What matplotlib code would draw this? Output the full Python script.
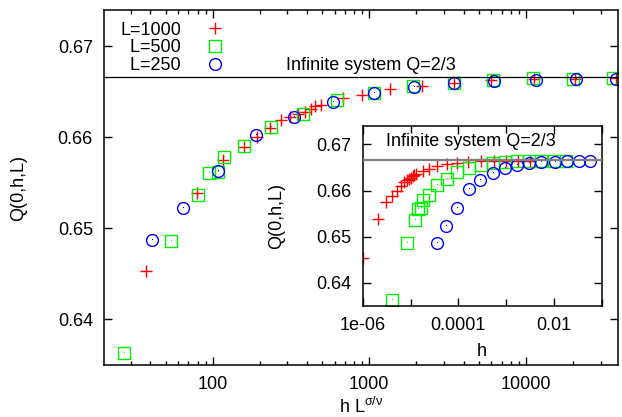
import numpy as np
import matplotlib
matplotlib.use('Agg')
import matplotlib.pyplot as plt
from matplotlib import ticker

plt.rcParams['font.family'] = ['Liberation Sans', 'DejaVu Sans']
plt.rcParams['mathtext.fontset'] = 'custom'
plt.rcParams['mathtext.rm'] = 'Liberation Sans'
plt.rcParams['mathtext.it'] = 'Liberation Sans:italic'

# exponent sigma/nu used for the scaling collapse
sigma_nu = 2.525
q_inf = 2.0 / 3.0

sizes = [1000, 500, 250]
labels = ['L=1000', '  L=500', '  L=250']

h_1000 = [1.0e-6, 2.1e-6, 3.1e-6, 4.2e-6, 5.1e-6, 6.2e-6, 7.3e-6, 8.3e-6, 9.3e-6,
          1.03e-5, 1.13e-5, 1.2e-5, 1.3e-5, 1.8e-5, 2.4e-5, 3.6e-5, 5.8e-5, 9.3e-5,
          1.6e-4, 3.0e-4, 5.5e-4, 1.0e-3, 1.8e-3, 3.2e-3]
q_1000 = [0.6453, 0.6539, 0.6575, 0.6589, 0.6600, 0.6610, 0.6619, 0.6623, 0.6626,
          0.6628, 0.6631, 0.6634, 0.6636, 0.6643, 0.6647, 0.6653, 0.6657, 0.6660,
          0.6663, 0.6664, 0.6664, 0.6665, 0.6665, 0.6665]

h_500 = [4.15e-6, 8.3e-6, 1.24e-5, 1.46e-5, 1.66e-5, 1.81e-5, 2.44e-5, 3.6e-5, 5.75e-5,
         9.5e-5, 1.65e-4, 2.93e-4, 5.3e-4, 9.5e-4, 1.7e-3, 3.05e-3, 5.5e-3, 1.0e-2, 1.8e-2]
q_500 = [0.6363, 0.6486, 0.6537, 0.6561, 0.6562, 0.6579, 0.6591, 0.6612, 0.6626,
         0.6641, 0.6649, 0.6656, 0.6660, 0.6663, 0.6665, 0.6664, 0.6665, 0.6665, 0.6665]

h_250 = [3.62e-5, 5.66e-5, 9.57e-5, 1.66e-4, 2.91e-4, 5.2e-4, 9.5e-4, 1.69e-3, 3.07e-3,
         5.5e-3, 1.03e-2, 1.85e-2, 3.33e-2, 5.7e-2]
q_250 = [0.6487, 0.6523, 0.6563, 0.6603, 0.6623, 0.6639, 0.6649, 0.6655, 0.6660,
         0.6662, 0.6663, 0.6664, 0.6664, 0.6664]

h_all = [h_1000, h_500, h_250]
q_all = [q_1000, q_500, q_250]

styles = [dict(marker='+', color='#ff0000', ms=8, mew=1.0),
          dict(marker='s', mfc='none', mec='#00ee00', ms=8.5, mew=1.0),
          dict(marker='o', mfc='none', mec='#0000ff', ms=8.5, mew=1.0)]
dotcol = [None, '#00ee00', '#0000ff']

fig = plt.figure(figsize=(6.22, 4.17), dpi=100)
ax = fig.add_axes([104/622, 52/417, 514/622, 355/417])
ins = fig.add_axes([362.7/622, 111/417, 239/622, 180/417])

handles = []
for L, h, q, st, dc in zip(sizes, h_all, q_all, styles, dotcol):
    x = np.array(h) * L**sigma_nu
    ln, = ax.plot(x, q, ls='none', **st)
    handles.append(ln)
    ins.plot(h, q, ls='none', **st)
    if dc:
        ax.plot(x, q, ',', color=dc)
        ins.plot(h, q, ',', color=dc)

ax.axhline(q_inf, color='black', lw=0.9, zorder=3)
ins.axhline(q_inf, color='#808080', lw=1.6, zorder=3)

ax.text(3590, 0.66737, 'Infinite system Q=2/3', ha='right', va='baseline', fontsize=13)
ins.text(3.1e-6, 0.66967, 'Infinite system Q=2/3', ha='left', va='baseline', fontsize=13)

ax.set_xscale('log')
ax.set_xlim(20.2, 38800)
ax.set_ylim(0.635, 0.674)
ax.set_yticks([0.64, 0.65, 0.66, 0.67])
ax.xaxis.set_major_formatter(ticker.FuncFormatter(lambda v, p: '%g' % v))
ax.tick_params(which='both', direction='in', top=True, right=True, labelsize=13)
ax.tick_params(which='major', length=6, width=1, pad=8)
ax.tick_params(which='minor', length=3, width=1)

ins.set_xscale('log')
ins.set_xlim(1e-6, 0.1)
ins.set_ylim(0.635, 0.674)
ins.set_yticks([0.64, 0.65, 0.66, 0.67])
ins.xaxis.set_major_locator(ticker.FixedLocator([1e-6, 1e-4, 1e-2]))
ins.xaxis.set_major_formatter(ticker.FixedFormatter(['1e-06', '0.0001', '0.01']))
ins.xaxis.set_minor_locator(ticker.FixedLocator([1e-5, 1e-3, 1e-1]))
ins.xaxis.set_minor_formatter(ticker.NullFormatter())
ins.tick_params(which='both', direction='in', top=True, right=True, labelsize=13)
ins.tick_params(which='major', length=6, width=1, pad=8)
ins.tick_params(which='minor', length=5, width=1)

for a in (ax, ins):
    for s in a.spines.values():
        s.set_linewidth(1.1)

ax.legend(handles, labels, loc='upper left', bbox_to_anchor=(0.0, 1.013),
          markerfirst=False, frameon=False, handletextpad=0.9, labelspacing=0.04,
          fontsize=13)

fig.text(19/622, 1 - 188/417, 'Q(0,h,L)', rotation=90, ha='center', va='center', fontsize=13)
fig.text(277/622, 1 - 216/417, 'Q(0,h,L)', rotation=90, ha='center', va='center', fontsize=13)
fig.text(481.7/622, 1 - 351.7/417, 'h', ha='center', va='center', fontsize=13)
fig.text(361/622, 4/417, r'h L$^{\mathrm{\sigma/\nu}}$', ha='center', va='baseline', fontsize=13)

fig.savefig('out.png', dpi=100)
